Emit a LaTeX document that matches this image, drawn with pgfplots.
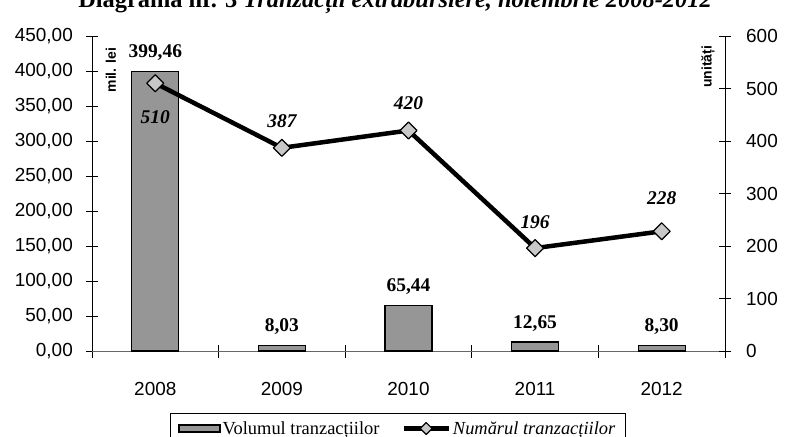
\documentclass[border=0pt]{standalone}
\usepackage{fontspec}
\setmainfont{Liberation Serif}
\newfontfamily\arial{Liberation Sans}
\usepackage{pgfplots}
\pgfplotsset{compat=1.18}
\usepackage{pgfplotstable}
\pgfplotsset{/pgf/number format/assume math mode=true}
\definecolor{barfill}{RGB}{150,150,150}
\definecolor{markfill}{RGB}{200,200,200}
\pgfplotsset{
  linelegend/.style={legend image code/.code={\draw[mark repeat=2, mark phase=2, ##1, mark size=4.2bp] plot coordinates {(0bp,0bp) (22.5bp,0bp) (45bp,0bp)};}},
  barlegend/.style={legend image code/.code={\draw[fill=barfill, draw=black, line width=1.3bp] (0bp,-3.5bp) rectangle (41bp,3.5bp);}},
}
\pgfplotstableread{
x vol
0 399.46
1 8.03
2 65.44
3 12.65
4 8.30
}\volumetable
\pgfplotstableread{
x num dy
0 510 -40.4
1 387 20.6
2 420 20.6
3 196 19.6
4 228 26.6
}\numtable
\begin{document}
\begin{tikzpicture}
\path[use as bounding box] (-92bp,-86bp) rectangle (700bp,351bp);
\clip (-92bp,-86bp) rectangle (700bp,351bp);
\node[anchor=base, font=\fontsize{24.5}{24.5}\selectfont\bfseries, inner sep=0pt] at (303bp,343bp) {Diagrama nr. 3 \textit{Tranzacții extrabursiere, noiembrie 2008-2012}};
\begin{axis}[
  scale only axis, width=633bp, height=315bp,
  xmin=-0.5, xmax=4.5, ymin=0, ymax=450,
  axis x line*=bottom, axis y line*=left,
  x axis line style={draw=gray!80!black, line width=1bp},
  y axis line style={draw=black, line width=0.9bp},
  xtick={0,1,2,3,4}, xticklabels={2008,2009,2010,2011,2012},
  minor xtick={-0.5,0.5,1.5,2.5,3.5,4.5},
  major x tick style={draw=none},
  ytick={0,50,...,450},
  tick align=center,
  major tick length=12bp, minor tick length=13bp,
  every tick/.style={black, line width=0.9bp},
  xticklabel style={font=\arial\fontsize{19}{19}\selectfont, anchor=center, yshift=-32bp, inner sep=0pt},
  yticklabel style={font=\arial\fontsize{19}{19}\selectfont, anchor=east, xshift=-13bp, inner sep=0pt,
    /pgf/number format/.cd, fixed, fixed zerofill, precision=2, use comma, 1000 sep={}},
]
\addplot[ybar, bar width=47bp, bar shift=0pt, fill=barfill, draw=black, line width=1.3bp,
  nodes near coords, point meta=y,
  every node near coord/.append style={font=\fontsize{19.5}{19.5}\selectfont\bfseries, anchor=base, yshift=13.6bp, inner sep=0pt,
    /pgf/number format/.cd, fixed, fixed zerofill, precision=2, use comma, 1000 sep={}}]
  table[x=x, y=vol] {\volumetable};
\end{axis}
\begin{axis}[
  scale only axis, width=633bp, height=315bp,
  xmin=-0.5, xmax=4.5, ymin=0, ymax=600,
  axis x line=none, axis y line*=right,
  y axis line style={draw=black, line width=0.9bp},
  ytick={0,100,...,600},
  tick align=center, major tick length=12bp,
  every tick/.style={black, line width=0.9bp},
  yticklabel style={font=\arial\fontsize{19}{19}\selectfont, anchor=west, xshift=15bp, inner sep=0pt},
  legend columns=2,
  legend cell align=left,
  legend style={at={(0.1232,-0.1968)}, anchor=north west, draw=black, line width=0.8bp,
    font=\fontsize{18.5}{18.5}\selectfont, inner xsep=8bp, inner ysep=6bp,
    /tikz/every even column/.append style={column sep=20bp}},
]
\addlegendimage{barlegend}
\addlegendentry{Volumul tranzacțiilor}
\addplot[black, line width=4.5bp, line join=round, mark=square*, mark size=6bp,
  mark options={rotate=45, fill=markfill, draw=black, line width=1.2bp},
  nodes near coords, point meta=explicit,
  visualization depends on={\thisrow{dy}\as\labeldy},
  every node near coord/.append style={font=\fontsize{19.5}{19.5}\selectfont\bfseries\itshape, anchor=base, yshift=\labeldy pt, inner sep=0pt},
  linelegend]
  table[x=x, y=num, meta=num] {\numtable};
\addlegendentry{\textit{Numărul tranzacțiilor}}
\end{axis}
\node[rotate=90, font=\arial\bfseries\fontsize{14}{14}\selectfont] at (19bp,281bp) {mil. lei};
\node[rotate=90, font=\arial\bfseries\fontsize{14}{14}\selectfont] at (616bp,284bp) {unități};
\end{tikzpicture}
\end{document}
